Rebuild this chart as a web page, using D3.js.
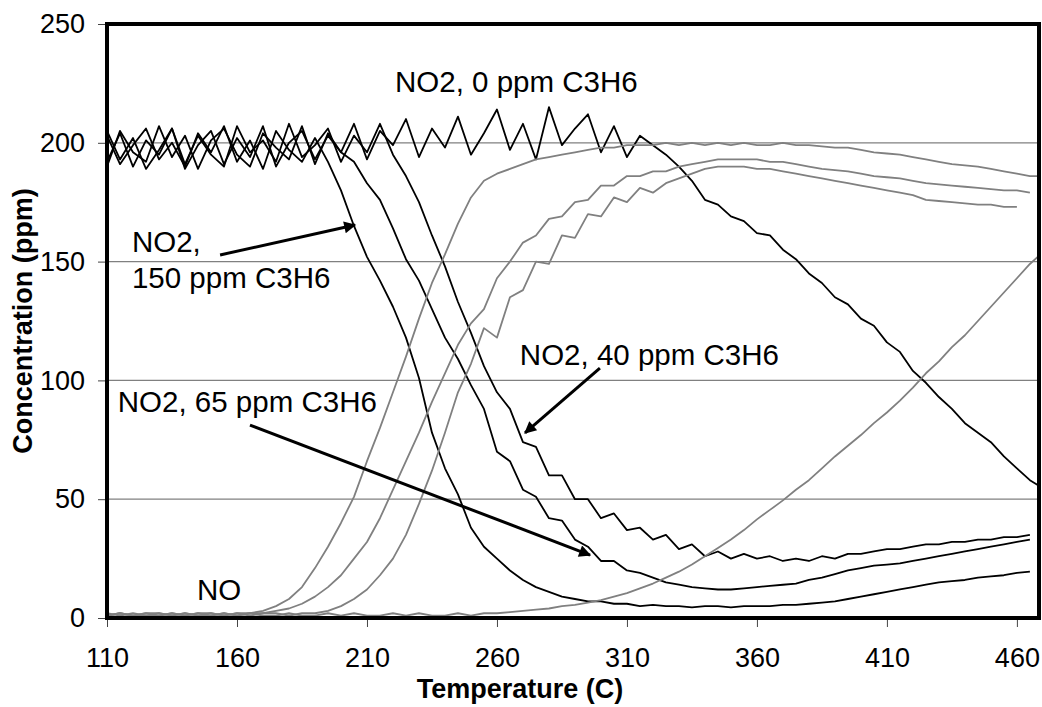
<!DOCTYPE html>
<html>
<head>
<meta charset="utf-8">
<script src="https://cdn.jsdelivr.net/npm/d3@7"></script>
<style>
body { margin: 0; background: #fff; }
text { font-family: "Liberation Sans", Arial, sans-serif; fill: #000; }
</style>
</head>
<body>
<div id="graph"></div>
<script>
var w = 1042, h = 707

// temperature (C) at each reading
var temps = [110,115,120,125,130,135,140,145,150,155,160,165,170,175,180,185,190,195,200,205,
  210,215,220,225,230,235,240,245,250,255,260,265,270,275,280,285,290,295,300,305,
  310,315,320,325,330,335,340,345,350,355,360,365,370,375,380,385,390,395,400,405,
  410,415,420,425,430,435,440,445,450,455,460,465,468]

// NO2 (black)
var no2_0 = [192,204,190,201,195,206,189,199,205,191,202,194,207,190,200,205,193,
  203,196,208,193,205,199,210,194,206,198,211,195,204,214,197,208,193,215,199,206,212,196,207,194,203,199,
  195,190,184,176,174,169,167,162,161,155,151,145,141,135,132,126,123,116,112,104,
  99,93,88,82,78,74,68,63,58,56]
var no2_150 = [203,191,199,206,193,200,190,204,196,207,192,201,189,205,197,192,202,
  192,180,165,152,142,131,118,101,78,63,52,38,30,25,20,16,13,11,9,8,7,7,6,6,5,5.5,
  5,5,4.5,5,5,4.5,5,5,5,5.5,5.5,6,6.5,7,8,9,10,11,12,13,14,15,15.5,16,17,17.5,18,19,19.5,null]
var no2_65 = [190,205,196,192,207,194,203,189,201,206,195,190,204,198,193,207,191,204,196,
  192,183,176,164,151,142,130,118,109,98,88,70,66,54,51,42,41,33,30,24,
  24,20,19,17,15,14,13,12.5,12,12,12.5,13,13.5,14,14.5,16,17,18.5,20,21,
  22,22.5,23,24,25,26,27,28,29,30,31,32,33,null]
var no2_40 = [205,193,202,189,197,206,191,203,195,190,207,196,201,192,208,194,199,206,192,203,196,208,
  195,186,175,161,148,133,120,106,95,88,74,72,60,60,50,50,42,44,37,38,
  33,35,29,31,26,28,25,27,25,26,24,25,24,26,25,27,27,28,29,29,
  30,31,31,32,32,33,33,34,34,35,null]

// NO (grey)
var no_150 = [1,2,1,2,1,2,1,2,2,1,2,2,
  3,5,8,13,21,30,40,51,66,80,95,110,126,141,153,166,177,184,187,189,
  191,193,194,195,196,197,198,198,199,199,199,200,199,200,199,200,199,200,199,199,
  200,199,199,198.5,198,198,197,196,195.5,195,194,193,192,191,190.5,190,189,188,187,186,186]
var no_65 = [2,1,2,1,1,2,1,2,1,2,1,2,2,3,
  4,6,9,13,18,25,32,42,54,66,78,91,103,115,124,130,143,150,158,161,
  168,169,175,176,182,182,186,186,188,188,190,191,192,193,193,193,193,192,192,191,
  190,189,188.5,188,187,186,185.5,185,184,183,182.5,182,181.5,181,180.5,180,180,179,null]
var no_40 = [1,2,1,2,2,1,2,1,2,1,2,1,2,2,1,2,2,
  3,5,8,12,18,25,35,48,62,78,95,107,122,118,135,138,150,149,161,160,
  170,169,177,175,181,179,183,185,187,189,190,190,190,189,189,188,187,186,185,184,
  183,182,181,180,179,178,176,175.5,175,174.5,174,174,173,173,null,null]
var no_0 = [1,2,1,1,2,1,2,1,1,2,1,2,1,1,2,1,1,2,1,2,1,1,2,1,2,1,1,2,1,
  2,2,2.5,3,3.5,4,5,5.5,6.5,7.5,9,10.5,12.5,14.5,17,19.5,22.5,26,29.5,33,
  37,41.5,45.5,49.5,54,58,63,68,72.5,77,82,86.5,91.5,97,103,108,114,119,125,131,
  137,143,149,152]

var xTicks = [110,160,210,260,310,360,410,460]
var yTicks = [0,50,100,150,200,250]
var gridVals = [50,100,150,200]

var x = d3.scaleLinear().domain([110, 468.5]).range([107, 1039])
var y = d3.scaleLinear().domain([0, 250]).range([618, 24])

var svg = d3.select('#graph').append('svg')
    .attr('width', w).attr('height', h)

var defs = svg.append('defs')
defs.append('clipPath').attr('id', 'plot')
  .append('rect')
    .attr('x', x(110)).attr('y', y(250))
    .attr('width', x(468.5) - x(110)).attr('height', y(0) - y(250))

defs.append('marker')
    .attr('id', 'head')
    .attr('viewBox', '0 0 10 10')
    .attr('refX', 9).attr('refY', 5)
    .attr('markerWidth', 17).attr('markerHeight', 12)
    .attr('markerUnits', 'userSpaceOnUse')
    .attr('orient', 'auto')
  .append('path').attr('d', 'M0,0L10,5L0,10z').style('fill', '#000')

// grid
svg.append('g').selectAll('line').data(gridVals).enter().append('line')
    .attr('x1', x(110)).attr('x2', x(468.5))
    .attr('y1', y).attr('y2', y)
    .style('stroke', '#808080').style('stroke-width', 1.3)

// axes
var yAxis = svg.append('g')
    .attr('transform', 'translate(' + x(110) + ',0)')
    .call(d3.axisLeft(y).tickValues(yTicks).tickSize(9).tickPadding(13))
yAxis.select('.domain').remove()
yAxis.selectAll('line').style('stroke', '#444')
yAxis.selectAll('text').style('font-size', '27px')

var xAxis = svg.append('g')
    .attr('transform', 'translate(0,' + y(0) + ')')
    .call(d3.axisBottom(x).tickValues(xTicks).tickSize(9).tickPadding(21))
xAxis.select('.domain').remove()
xAxis.selectAll('line').style('stroke', '#444')
xAxis.selectAll('text').style('font-size', '27px')

// series
var line = d3.line()
    .defined(function(d){ return d[1] != null })
    .x(function(d){ return x(d[0]) })
    .y(function(d){ return y(d[1]) })

var plot = svg.append('g').attr('clip-path', 'url(#plot)')

function draw(vals, color){
  plot.append('path')
    .datum(temps.map(function(t, i){ return [t, vals[i]] }))
    .attr('d', line)
    .style('fill', 'none')
    .style('stroke', color)
    .style('stroke-width', 1.8)
    .style('stroke-linejoin', 'round')
}

;[no2_0, no2_40, no2_65, no2_150].forEach(function(s){ draw(s, '#000') })
;[no_0, no_40, no_65, no_150].forEach(function(s){ draw(s, '#808080') })

// frame
svg.append('rect')
    .attr('x', x(110)).attr('y', y(250))
    .attr('width', x(468.5) - x(110)).attr('height', y(0) - y(250))
    .style('fill', 'none').style('stroke', '#000').style('stroke-width', 4)

// titles
svg.append('text')
    .attr('x', 520).attr('y', 698)
    .attr('text-anchor', 'middle')
    .style('font-size', '27px').style('font-weight', 'bold')
    .text('Temperature (C)')

svg.append('text')
    .attr('transform', 'translate(32,321) rotate(-90)')
    .attr('text-anchor', 'middle')
    .style('font-size', '27px').style('font-weight', 'bold')
    .text('Concentration (ppm)')

// annotations
function label(t, v, s, anchor){
  svg.append('text')
    .attr('x', x(t)).attr('y', y(v))
    .attr('text-anchor', anchor || 'start')
    .style('font-size', '29.5px')
    .text(s)
}
function arrow(t0, v0, t1, v1){
  svg.append('line')
    .attr('x1', x(t0)).attr('y1', y(v0))
    .attr('x2', x(t1)).attr('y2', y(v1))
    .style('stroke', '#000').style('stroke-width', 3)
    .attr('marker-end', 'url(#head)')
}

label(220.8, 221.3, 'NO2, 0 ppm C3H6')
label(119.6, 154, 'NO2,')
label(119.6, 138.9, '150 ppm C3H6')
label(268.8, 106.5, 'NO2, 40 ppm C3H6')
label(213.8, 86.7, 'NO2, 65 ppm C3H6', 'end')
label(144.6, 7.6, 'NO')

arrow(153.5, 152.8, 205.4, 165.4)
arrow(299.6, 105.2, 270.8, 77.9)
arrow(165, 81.2, 295.8, 26.5)
</script>
</body>
</html>
